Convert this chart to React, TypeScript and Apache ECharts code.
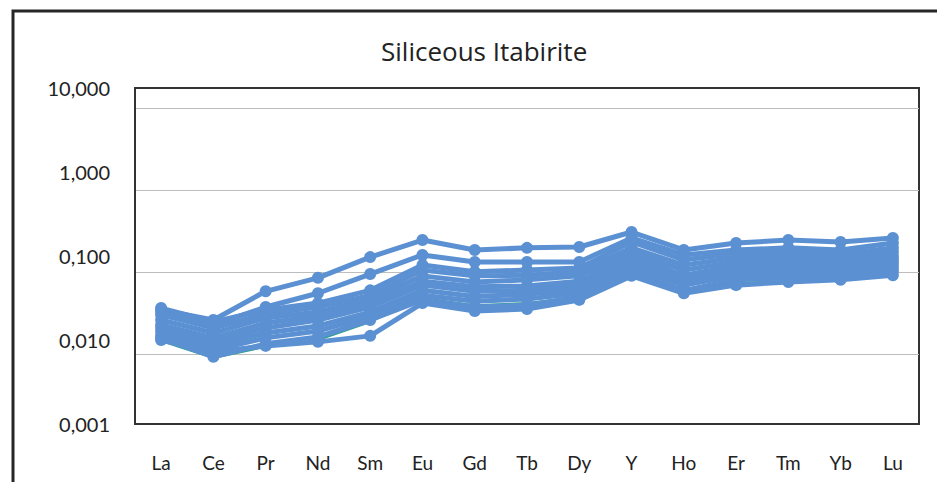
import React, { useEffect, useRef } from "react";
import * as echarts from "echarts";

const categories = ["La", "Ce", "Pr", "Nd", "Sm", "Eu", "Gd", "Tb", "Dy", "Y", "Ho", "Er", "Tm", "Yb", "Lu"];

const yTicks = ["0,001", "0,010", "0,100", "1,000", "10,000"];

const sampleTeal = [0.0097, 0.0061, 0.0083, 0.0100, 0.0164, 0.0316, 0.026, 0.0275, 0.0325, 0.068, 0.039, 0.048, 0.050, 0.052, 0.061];
const sample1 = [0.0228, 0.0173, 0.038, 0.055, 0.097, 0.155, 0.118, 0.125, 0.128, 0.193, 0.118, 0.143, 0.155, 0.147, 0.164];
const sample2 = [0.0215, 0.0151, 0.0247, 0.036, 0.061, 0.103, 0.085, 0.085, 0.085, 0.164, 0.103, 0.118, 0.125, 0.118, 0.143];
const sample3 = [0.024, 0.0164, 0.0228, 0.0275, 0.039, 0.078, 0.065, 0.068, 0.072, 0.147, 0.090, 0.106, 0.112, 0.106, 0.125];
const sample4 = [0.0199, 0.0139, 0.0204, 0.0247, 0.034, 0.068, 0.058, 0.059, 0.065, 0.125, 0.078, 0.095, 0.100, 0.095, 0.112];
const sample5 = [0.0173, 0.0121, 0.0183, 0.0215, 0.0308, 0.058, 0.049, 0.052, 0.058, 0.112, 0.068, 0.085, 0.090, 0.085, 0.100];
const sample6 = [0.0151, 0.0106, 0.0159, 0.0193, 0.0275, 0.050, 0.043, 0.044, 0.050, 0.100, 0.059, 0.076, 0.080, 0.078, 0.092];
const sample7 = [0.0139, 0.0095, 0.0139, 0.0173, 0.0247, 0.045, 0.038, 0.039, 0.045, 0.090, 0.055, 0.068, 0.072, 0.072, 0.085];
const sample8 = [0.0125, 0.0085, 0.0121, 0.0147, 0.0215, 0.039, 0.033, 0.035, 0.040, 0.080, 0.049, 0.063, 0.066, 0.066, 0.078];
const sample9 = [0.0112, 0.0076, 0.0106, 0.0128, 0.0193, 0.034, 0.029, 0.0308, 0.036, 0.072, 0.045, 0.058, 0.061, 0.061, 0.072];
const sample10 = [0.0106, 0.0063, 0.0090, 0.0109, 0.0173, 0.030, 0.0247, 0.026, 0.0325, 0.065, 0.039, 0.052, 0.055, 0.056, 0.066];
const sample11 = [0.0100, 0.0072, 0.0085, 0.0095, 0.0112, 0.0275, 0.0221, 0.0234, 0.030, 0.058, 0.036, 0.045, 0.049, 0.052, 0.059];

const blueSamples = [sample1, sample2, sample3, sample4, sample5, sample6, sample7, sample8, sample9, sample10, sample11];

export default function App() {
  const ref = useRef<HTMLDivElement>(null);

  useEffect(() => {
    if (!ref.current) return;
    const chart = echarts.init(ref.current, undefined, { renderer: "svg" });
    const font = "Lato, 'Open Sans', sans-serif";
    const blue = "#5b91d2";

    const series: any[] = [
      {
        type: "line",
        name: "S0",
        data: sampleTeal,
        yAxisIndex: 0,
        symbol: "none",
        z: 1,
        lineStyle: { color: "#2f9e92", width: 2 },
        itemStyle: { color: "#2f9e92" },
      },
      ...blueSamples.map((d, i) => ({
        type: "line",
        name: "S" + (i + 1),
        data: d,
        yAxisIndex: 0,
        symbol: "circle",
        symbolSize: 12,
        z: 2,
        lineStyle: { color: blue, width: 5 },
        itemStyle: { color: blue },
      })),
    ];

    chart.setOption({
      animation: false,
      backgroundColor: "#ffffff",
      title: {
        text: "Siliceous Itabirite",
        left: 376,
        top: 33,
        textStyle: { fontFamily: "'Open Sans', Lato, sans-serif", fontSize: 26, fontWeight: "normal", color: "#222" },
      },
      graphic: [
        {
          type: "rect",
          shape: { x: 13, y: 11, width: 1000, height: 1000 },
          style: { fill: "none", stroke: "#262626", lineWidth: 3 },
          silent: true,
        },
      ],
      grid: {
        left: 135,
        right: 18,
        top: 88,
        bottom: 58,
        show: true,
        borderColor: "#333",
        borderWidth: 2,
        backgroundColor: "transparent",
      },
      xAxis: {
        type: "category",
        data: categories,
        boundaryGap: true,
        axisLine: { show: true, lineStyle: { color: "#333", width: 2 } },
        axisTick: { show: false },
        splitLine: { show: false },
        axisLabel: { margin: 29, fontFamily: font, fontSize: 19, color: "#222" },
      },
      yAxis: [
        {
          type: "log",
          logBase: 10,
          min: 0.001,
          max: 10,
          position: "left",
          axisLine: { show: true, lineStyle: { color: "#333", width: 2 } },
          axisTick: { show: false },
          splitLine: { show: false },
          axisLabel: {
            margin: 25,
            fontFamily: font,
            fontSize: 20,
            color: "#222",
            formatter: (v: number) => {
              const idx = Math.round(Math.log10(v)) + 3;
              return yTicks[idx] ?? "";
            },
          },
        },
        {
          type: "log",
          logBase: 10,
          min: 0.0014,
          max: 17.5,
          position: "right",
          axisLine: { show: false },
          axisTick: { show: false },
          axisLabel: { show: false },
          splitLine: {
            show: true,
            showMinLine: false,
            showMaxLine: false,
            lineStyle: { color: "#bdbdbd", width: 1.2 },
          },
        },
      ],
      series,
    });

    return () => chart.dispose();
  }, []);

  return (
    <div
      ref={ref}
      style={{ position: "fixed", left: 0, top: 0, width: 937, height: 482, background: "#fff" }}
    />
  );
}
